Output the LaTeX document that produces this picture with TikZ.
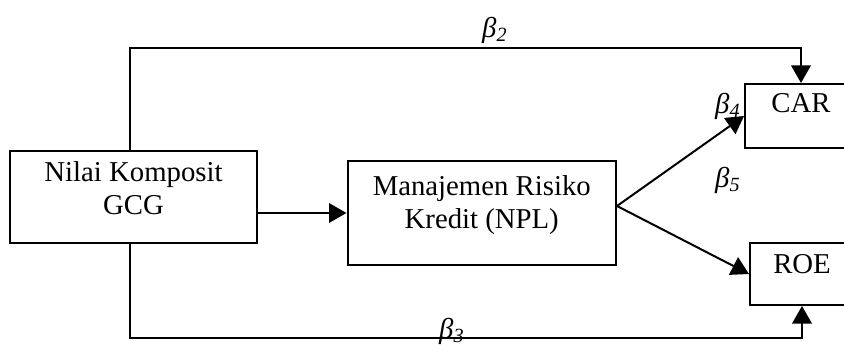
\documentclass[tikz,border=0pt]{standalone}
\usepackage{fontspec}
\setmainfont{Liberation Serif}
\usepackage{tikz}
\usetikzlibrary{arrows.meta,positioning,calc}
\tikzset{
  varbox/.style={draw=black,line width=0.8pt,anchor=north west,align=center,inner sep=0pt,font=\fontsize{11.5}{13.2}\selectfont},
  patharrow/.style={-{Triangle[length=7pt,width=7.8pt]},line width=0.8pt,draw=black},
  coef/.style={font=\fontsize{11.5}{13.2}\selectfont\itshape,inner sep=0pt}
}

\begin{document}
\begin{tikzpicture}[x=0.4pt,y=-0.4pt]
\useasboundingbox (0,0) rectangle (844,345);
\clip (0,0) rectangle (844,345);
% variables
\node[varbox,minimum width=98.8pt,minimum height=36.8pt] (gcg) at (9,150) {Nilai Komposit\\GCG\\[-6.2pt]\mbox{}};
\node[varbox,minimum width=107.4pt,minimum height=41.2pt] (npl) at (346.5,160.5) {Manajemen Risiko\\Kredit (NPL)\\[-4.8pt]\mbox{}};
\node[varbox,minimum width=44.8pt,minimum height=25.6pt,text height=8pt,text depth=10.4pt] (car) at (744,83) {CAR};
\node[varbox,minimum width=41.6pt,minimum height=24.8pt,text height=8pt,text depth=8.8pt] (roe) at (749,242) {ROE};
% paths
\coordinate (topl) at (130,48);
\coordinate (botl) at (130,338);
\draw[patharrow] (gcg.north -| topl) -- (topl) -| (car.north);
\draw[patharrow] (gcg.south -| botl) -- (botl) -| (roe.south);
\draw[patharrow] (npl.west -| gcg.east) -- (npl.west);
\draw[patharrow] ([yshift=2.8pt]npl.east) -- (car.west);
\draw[patharrow] ([yshift=2.8pt]npl.east) -- (roe.west);
% coefficients
\node[coef] (b2) at (495,30) {β\textsubscript{2}};
\node[coef] (b3) at (452,331) {β\textsubscript{3}};
\node[coef] (b4) at (728,106) {β\textsubscript{4}};
\node[coef] (b5) at (728,180) {β\textsubscript{5}};
\end{tikzpicture}
\end{document}
